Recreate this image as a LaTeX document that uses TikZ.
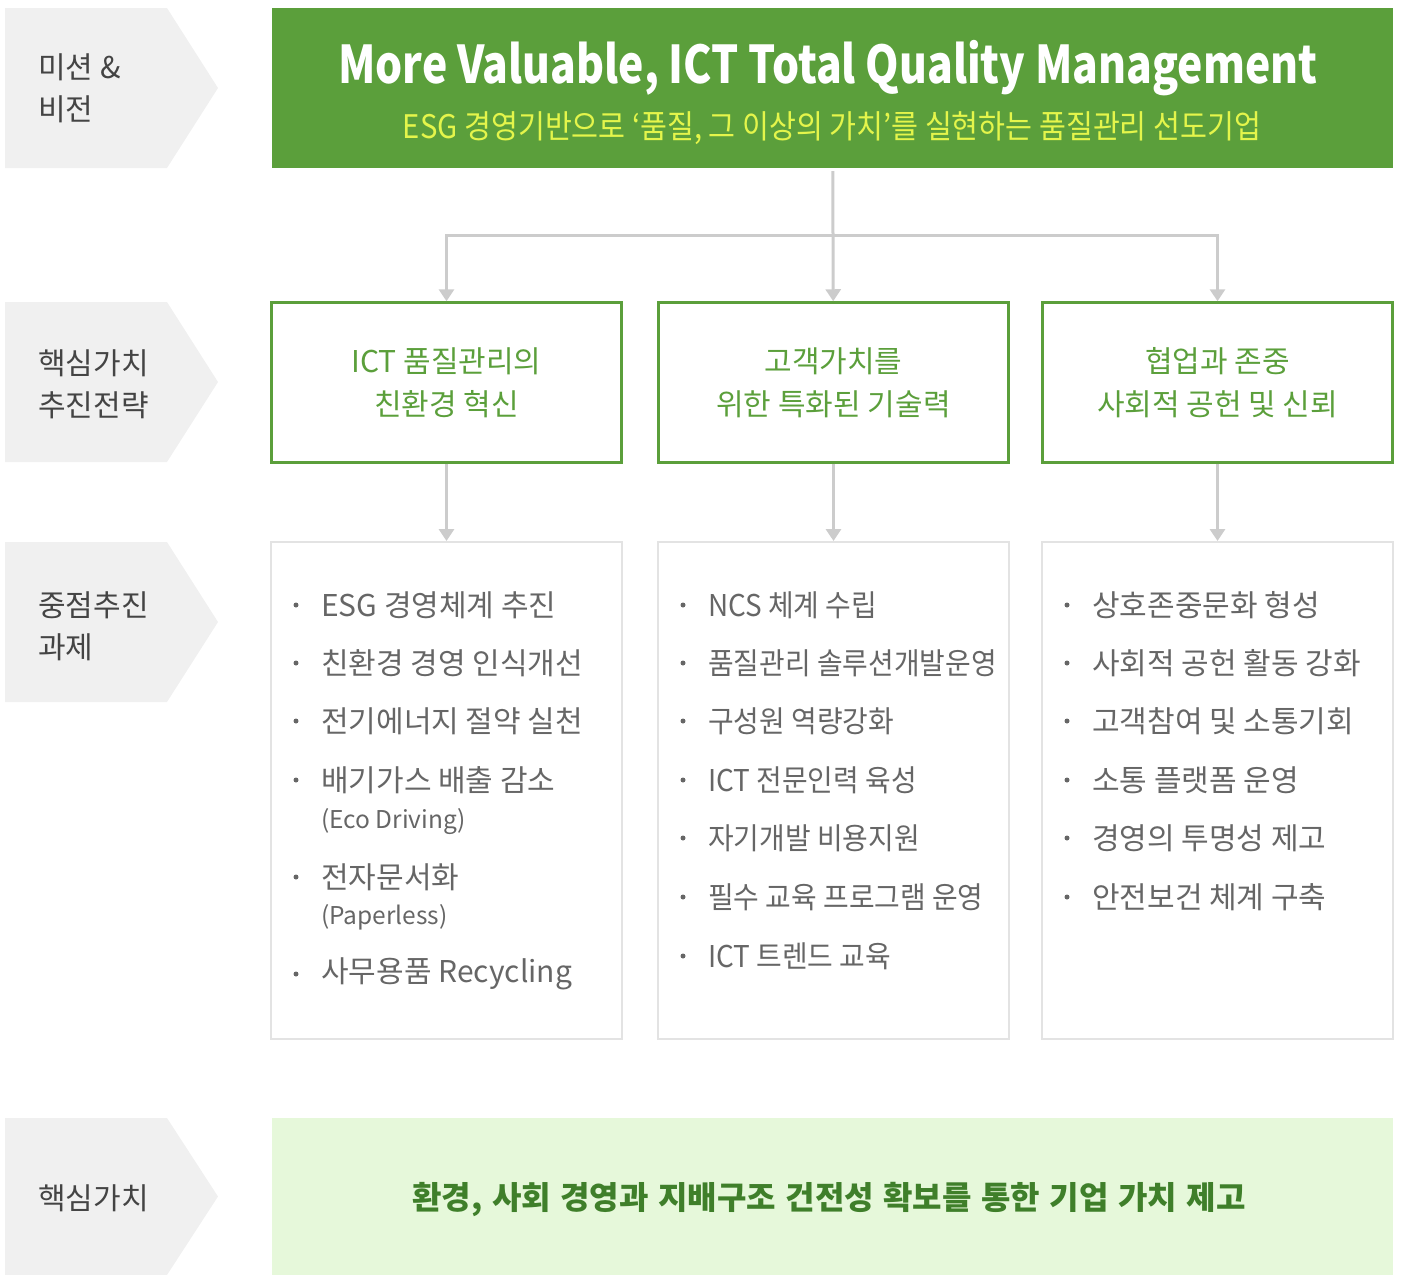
\documentclass[tikz,border=0pt]{standalone}
\usepackage{fontspec}
\setmainfont{Noto Sans CJK KR}
\newfontfamily\titlefont[FakeStretch=0.82]{Noto Sans CJK KR}
\newfontfamily\subfont[FakeStretch=0.9]{Noto Sans CJK KR}
\newfontfamily\narrowfont[FakeStretch=0.93]{Noto Sans CJK KR}
\newfontfamily\corefont[WordSpace=1.3]{Noto Sans CJK KR}
\usetikzlibrary{arrows.meta, positioning, calc}

\definecolor{leafgreen}{HTML}{5B9F3B}
\definecolor{deepgreen}{HTML}{3F7F2A}
\definecolor{palegreen}{HTML}{E6F8DA}
\definecolor{lemon}{HTML}{E4F54B}
\definecolor{tabgray}{HTML}{F0F0F0}
\definecolor{labelgray}{HTML}{444444}
\definecolor{itemgray}{HTML}{666666}
\definecolor{boxgray}{HTML}{E3E3E3}
\definecolor{linegray}{HTML}{CCCCCC}

\begin{document}
\begin{tikzpicture}[
    x=1pt, y=-1pt,
    tablabel/.style={anchor=west, align=left, text=labelgray, inner sep=0pt, font=\fontsize{30}{42}\selectfont},
    stratbox/.style={draw=leafgreen, line width=2.5pt, minimum width=350pt, minimum height=160pt, align=center, text=leafgreen, font=\fontsize{30}{43}\selectfont},
    taskbox/.style={draw=boxgray, line width=2pt, minimum width=351pt, minimum height=497pt},
    item/.style={anchor=west, text=itemgray, inner sep=0pt, font=\fontsize{30}{34}\selectfont},
    narrowitem/.style={item, font=\narrowfont\fontsize{30}{34}\selectfont},
    subitem/.style={anchor=west, text=itemgray, inner sep=0pt, font=\fontsize{24.5}{28}\selectfont},
    conn/.style={draw=linegray, line width=3pt, -{Triangle[width=15pt,length=12pt]}}
]
    \useasboundingbox (0,0) rectangle (1401,1275);

    % Left tabs
    \foreach \t/\b in {8/168, 302/462, 542/702, 1118/1275}
        \fill[tabgray] (5,\t) -- (167,\t) -- (218,{(\t+\b)/2}) -- (167,\b) -- (5,\b) -- cycle;
    \node[tablabel] (lab1) at (38,88) {미션 \&\\비전};
    \node[tablabel] (lab2) at (38,384) {핵심가치\\추진전략};
    \node[tablabel] (lab3) at (38,626) {중점추진\\과제};
    \node[tablabel] (lab4) at (38,1198) {핵심가치};

    % Mission & vision
    \node[fill=leafgreen, minimum width=1121pt, minimum height=160pt, inner sep=0pt] (vision) at (832.5,88) {};
    \node[text=white, font=\titlefont\fontsize{52}{60}\selectfont\bfseries] (vtitle) at (828,68) {More Valuable, ICT Total Quality Management};
    \node[text=lemon, font=\subfont\fontsize{32.5}{36}\selectfont] (vsub) at (832,128) {ESG 경영기반으로 ‘품질, 그 이상의 가치’를 실현하는 품질관리 선도기업};

    % Strategies
    \node[stratbox] (s1) at (446.5,382.5) {ICT 품질관리의\\친환경 혁신};
    \node[stratbox] (s2) at (833.5,382.5) {고객가치를\\위한 특화된 기술력};
    \node[stratbox] (s3) at (1217.5,382.5) {협업과 존중\\사회적 공헌 및 신뢰};

    \coordinate (fork) at (833.5,235);
    \draw[conn, shorten <=3pt] (vision) -- (s2);
    \draw[conn] (fork) -| (s1.north);
    \draw[conn] (fork) -| (s3.north);

    % Tasks
    \node[taskbox] (t1) at (446.5,790.5) {};
    \node[taskbox] (t2) at (833.5,790.5) {};
    \node[taskbox] (t3) at (1217.5,790.5) {};

    \draw[conn] (s1) -- (t1);
    \draw[conn] (s2) -- (t2);
    \draw[conn] (s3) -- (t3);

    \foreach \y/\txt [count=\i] in {605/ESG 경영체계 추진, 663/친환경 경영 인식개선, 721/전기에너지 절약 실천, 780/배기가스 배출 감소, 877/전자문서화, 974/사무용품 Recycling} {
        \fill[itemgray] (296,\y) circle (2.5pt);
        \node[item] (a\i) at (321,\y) {\txt};
    }
    \node[subitem] (a4note) at (321,822) {(Eco Driving)};
    \node[subitem] (a5note) at (321,917) {(Paperless)};

    \foreach \y/\txt [count=\i] in {605/NCS 체계 수립, 663/품질관리 솔루션개발운영, 721/구성원 역량강화, 780/ICT 전문인력 육성, 838/자기개발 비용지원, 897/필수 교육 프로그램 운영, 956/ICT 트렌드 교육} {
        \fill[itemgray] (683,\y) circle (2.5pt);
        \node[narrowitem] (b\i) at (708,\y) {\txt};
    }

    \foreach \y/\txt [count=\i] in {605/상호존중문화 형성, 663/사회적 공헌 활동 강화, 721/고객참여 및 소통기회, 780/소통 플랫폼 운영, 838/경영의 투명성 제고, 897/안전보건 체계 구축} {
        \fill[itemgray] (1067,\y) circle (2.5pt);
        \node[item] (c\i) at (1092,\y) {\txt};
    }

    % Core value
    \node[fill=palegreen, minimum width=1121pt, minimum height=157pt, inner sep=0pt] (core) at (832.5,1196.5) {};
    \node[text=deepgreen, font=\corefont\fontsize{32}{36}\selectfont\bfseries] (coretext) at (829,1200) {환경, 사회 경영과 지배구조 건전성 확보를 통한 기업 가치 제고};
\end{tikzpicture}
\end{document}
